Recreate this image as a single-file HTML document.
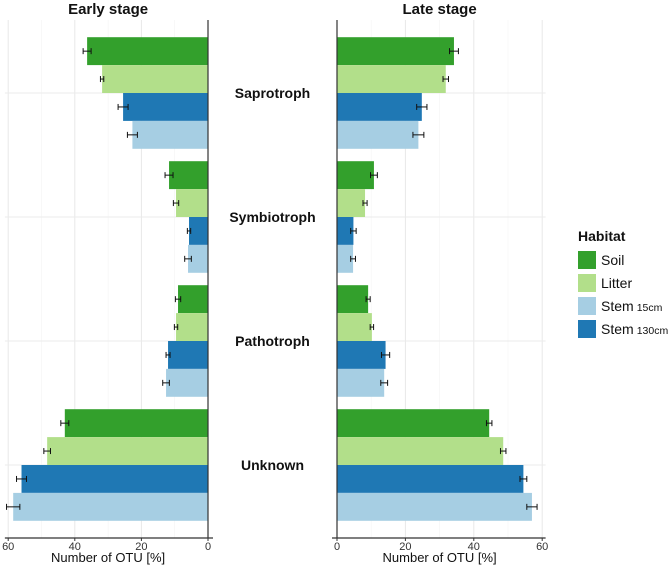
<!DOCTYPE html>
<html><head><meta charset="utf-8"><style>
body{margin:0;background:#fff;font-family:"Liberation Sans",sans-serif}
svg text{font-family:"Liberation Sans",sans-serif}
</style></head><body>
<svg id="c" width="672" height="566"></svg>
<script>
const categories=["Saprotroph","Symbiotroph","Pathotroph","Unknown"];
const habitats=["Soil","Litter","Stem130","Stem15"];
const colors={Soil:"#33a02c",Litter:"#b2df8a",Stem130:"#1f78b4",Stem15:"#a6cee3"};
const earlySoil=[36.3,11.7,9.0,43.0];
const earlyLitter=[31.8,9.6,9.6,48.3];
const earlyStem130=[25.5,5.7,12.0,56.0];
const earlyStem15=[22.7,6.0,12.6,58.5];
const earlyErr=[[1.2,1.2,0.8,1.2],[0.5,0.8,0.5,1.0],[1.5,0.5,0.6,1.5],[1.5,1.0,1.0,2.0]];
const lateSoil=[34.2,10.8,9.1,44.5];
const lateLitter=[31.8,8.2,10.2,48.6];
const lateStem130=[24.8,4.8,14.2,54.5];
const lateStem15=[23.8,4.7,13.8,57.0];
const lateErr=[[1.3,1.0,0.6,0.8],[0.8,0.6,0.5,0.8],[1.5,0.8,1.2,1.0],[1.6,0.7,1.0,1.5]];
const ticks=[0,20,40,60];
const NS="http://www.w3.org/2000/svg";
const svg=document.getElementById("c");
function mk(t,a,p){const e=document.createElementNS(NS,t);for(const k in a)e.setAttribute(k,a[k]);(p||svg).appendChild(e);return e;}
const topY=20,botY=538,groupH=(botY-topY-22)/4,barH=groupH*0.9/4;
function yCenter(i){return topY+11+groupH*(i+0.5);}
function panel(name,x0,dir,data,err,title){
  const g=mk("g",{});
  
  
  const sc=dir>0?3.42:3.33;
  const X=v=>x0+dir*v*sc;
  for(let v=10;v<=60;v+=10){const l=mk("line",{x1:X(v),x2:X(v),y1:topY,y2:botY,stroke:v%20?"#f4f4f4":"#e8e8e8","stroke-width":v%20?0.6:1},g);}
  categories.forEach((c,i)=>{const l=mk("line",{x1:X(0),x2:X(61),y1:yCenter(i),y2:yCenter(i),stroke:"#ebebeb"},g);});
  categories.forEach((c,i)=>{
    habitats.forEach((h,j)=>{
      const v=data[j][i],y=yCenter(i)-2*barH+j*barH;
      const x1=X(0),x2=X(v);
      const r=mk("rect",{x:Math.min(x1,x2),y:y,width:Math.abs(x2-x1),height:barH,fill:colors[h]},g);
      
      
      const e=err[j][i],ym=y+barH/2,a=X(v-e),b=X(v+e);
      const eb=mk("g",{stroke:"#111","stroke-width":1},g);
      
      
      mk("line",{x1:a,x2:b,y1:ym,y2:ym},eb);
      mk("line",{x1:a,x2:a,y1:ym-3,y2:ym+3},eb);
      mk("line",{x1:b,x2:b,y1:ym-3,y2:ym+3},eb);
    });
  });
  const ax=mk("line",{x1:X(0),x2:X(0),y1:topY,y2:botY,stroke:"#333","stroke-width":1.2},g);
  
  const bx=mk("line",{x1:X(0)-dir*5,x2:X(61),y1:botY,y2:botY,stroke:"#333","stroke-width":1.2},g);
  
  ticks.forEach(t=>{
    mk("line",{x1:X(t),x2:X(t),y1:botY,y2:botY+3,stroke:"#333"},g);
    const tx=mk("text",{x:X(t),y:botY+12,"text-anchor":"middle","font-size":11,fill:"#333"},g);
    tx.textContent=t;
    
  });
  const xt=mk("text",{x:X(30),y:botY+24,"text-anchor":"middle","font-size":13,fill:"#111"},g);
  xt.textContent="Number of OTU [%]";
  
  const tt=mk("text",{x:X(30),y:14,"text-anchor":"middle","font-size":15,"font-weight":"bold",fill:"#111"},g);
  tt.textContent=title;
  
}
panel("early",208,-1,[earlySoil,earlyLitter,earlyStem130,earlyStem15],earlyErr,"Early stage");
panel("late",337,1,[lateSoil,lateLitter,lateStem130,lateStem15],lateErr,"Late stage");
categories.forEach((c,i)=>{
  const t=mk("text",{x:272.5,y:yCenter(i)+5,"text-anchor":"middle","font-size":14,"font-weight":"bold",fill:"#111"});
  t.textContent=c;
  
  
});
const lg=mk("g",{});


const lt=mk("text",{x:578,y:241,"font-size":14,"font-weight":"bold",fill:"#111"},lg);
lt.textContent="Habitat";
const legItems=[["Soil","Soil",""],["Litter","Litter",""],["Stem15","Stem","15cm"],["Stem130","Stem","130cm"]];
legItems.forEach((it,k)=>{
  const y=251+k*23;
  const e=mk("g",{},lg);
  
  
  mk("rect",{x:578,y:y,width:18,height:18,fill:colors[it[0]]},e);
  const t=mk("text",{x:601,y:y+14,"font-size":14,fill:"#111"},e);
  t.textContent=it[1];
  if(it[2]){const s=mk("tspan",{"font-size":10.5,dx:3},t);s.textContent=it[2];}
});
</script>
</body></html>
